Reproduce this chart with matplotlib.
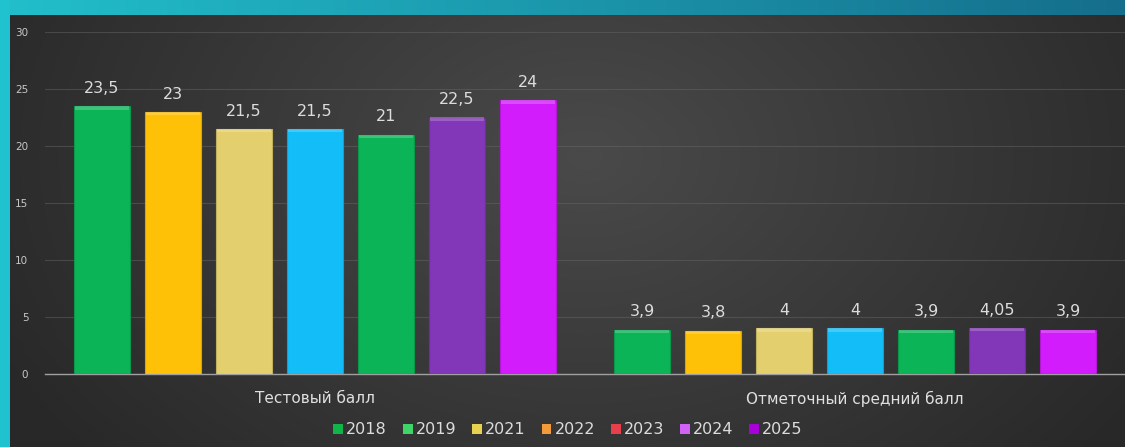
import numpy as np
import matplotlib
matplotlib.use("Agg")
import matplotlib.pyplot as plt
from matplotlib.patches import Patch
from matplotlib.colors import to_rgb

categories = ["Тестовый балл", "Отметочный средний балл"]
years = ["2018", "2019", "2021", "2022", "2023", "2024", "2025"]
values = {
    "2018": [23.5, 3.9],
    "2019": [23, 3.8],
    "2021": [21.5, 4],
    "2022": [21.5, 4],
    "2023": [21, 3.9],
    "2024": [22.5, 4.05],
    "2025": [24, 3.9],
}
value_labels = {
    "2018": ["23,5", "3,9"],
    "2019": ["23", "3,8"],
    "2021": ["21,5", "4"],
    "2022": ["21,5", "4"],
    "2023": ["21", "3,9"],
    "2024": ["22,5", "4,05"],
    "2025": ["24", "3,9"],
}
bar_colors = ["#0bb457", "#ffc107", "#e3cf6e", "#13bdf7", "#0bb457", "#8236b8", "#d21cfb"]
legend_colors = ["#10b54a", "#3fd46a", "#e8d050", "#f39a3a", "#e8404a", "#d062f5", "#a800d8"]
yticks = [0, 5, 10, 15, 20, 25, 30]

W, H = 1125, 447
fig = plt.figure(figsize=(W / 100, H / 100), dpi=100)

# background
bg = fig.add_axes([0, 0, 1, 1], zorder=-10)
bg.set_axis_off()
xx, yy = np.meshgrid(np.linspace(0, 1, W), np.linspace(0, 1, H))
d = np.sqrt(((xx - 0.52) / 0.62) ** 2 + ((yy - 0.35) / 1.1) ** 2)
g = np.clip(0.29 - 0.14 * d, 0.16, 0.29)
img = np.dstack([g, g, g])
top = 15
left = 10
c1 = np.array(to_rgb("#22bfcb"))
c2 = np.array(to_rgb("#156e8c"))
t = np.linspace(0, 1, W)[:, None]
strip = c1 * (1 - t) + c2 * t
img[:top, :, :] = strip[None, :, :]
img[:, :left, :] = to_rgb("#20c2cf")
bg.imshow(img, extent=[0, 1, 0, 1], aspect="auto", origin="upper")
bg.set_xlim(0, 1)
bg.set_ylim(0, 1)

ax = fig.add_axes([45 / W, 1 - 374 / H, 1 - 45 / W, (374 - 32) / H])
ax.set_facecolor("none")
ax.set_xlim(-0.5, 1.5)
ax.set_ylim(0, 30)

x = np.arange(len(categories))
pitch = 71 / 540
width = 56 / 540
for i, yr in enumerate(years):
    pos = x + (i - 3) * pitch
    vals = values[yr]
    col = np.array(to_rgb(bar_colors[i]))
    light = tuple(np.clip(col + (1 - col) * 0.35, 0, 1))
    dark = tuple(col * 0.85)
    ax.bar(pos, vals, width=width, color=bar_colors[i], edgecolor=dark, linewidth=0.8, zorder=3)
    # bevel highlight at top
    ax.bar(pos, [0.3] * len(vals), bottom=[v - 0.3 for v in vals], width=width * 0.96,
           color=light, linewidth=0, zorder=4, alpha=0.6)
    for p, v, lab in zip(pos, vals, value_labels[yr]):
        ax.text(p, v + 0.9, lab, ha="center", va="bottom", color="#dcdcdc", fontsize=11.5, zorder=5)

ax.set_yticks(yticks)
ax.set_yticklabels([str(v) for v in yticks], color="#c8c8c8", fontsize=7.5)
ax.set_xticks(x)
ax.set_xticklabels(categories, color="#e0e0e0", fontsize=11)
ax.tick_params(axis="both", length=0)
ax.tick_params(axis="y", pad=12)
ax.tick_params(axis="x", pad=12)
ax.grid(axis="y", color="#6a6a6a", linewidth=0.8, alpha=0.45, zorder=0)
for s in ["top", "right", "left"]:
    ax.spines[s].set_visible(False)
ax.spines["bottom"].set_color("#a0a0a0")
ax.spines["bottom"].set_linewidth(1.0)

handles = [Patch(facecolor=c, edgecolor="none") for c in legend_colors]
fig.legend(handles, years, loc="center", bbox_to_anchor=(568 / W, 1 - 430 / H), ncol=7,
           frameon=False, fontsize=11.5, labelcolor="#dcdcdc", handlelength=0.6, handleheight=0.6,
           handletextpad=0.2, columnspacing=1.0)

fig.savefig("out.png", dpi=100)
